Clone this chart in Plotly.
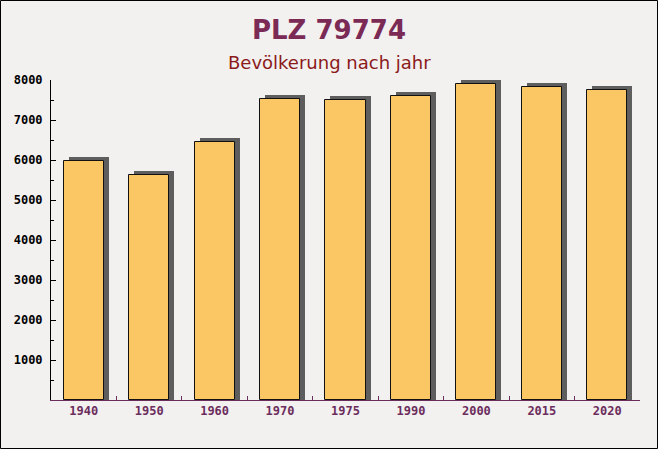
import plotly.graph_objects as go

years = ["1940", "1950", "1960", "1970", "1975", "1990", "2000", "2015", "2020"]
population = [5980, 5620, 6450, 7530, 7490, 7610, 7900, 7830, 7750]

title_text = "PLZ 79774"
subtitle_text = "Bevölkerung nach jahr"

W, H = 658, 449
ML, MR, MT, MB = 51, 18, 80, 49
pw = W - ML - MR
ph = H - MT - MB

bar_w = 0.612
shadow_dx = 5 / (pw / len(years))
shadow_dy = 4 * 8000 / ph

fig = go.Figure()
fig.add_trace(go.Bar(
    x=years, y=[v + shadow_dy for v in population],
    width=bar_w, offset=-bar_w / 2 + shadow_dx,
    marker=dict(color="#5e5e5e", line=dict(width=0)),
    hoverinfo="skip", showlegend=False,
))
fig.add_trace(go.Bar(
    x=years, y=population,
    width=bar_w, offset=-bar_w / 2,
    marker=dict(color="#fbc765", line=dict(color="#111111", width=1)),
    showlegend=False,
))

cx = (W / 2 - ML) / pw

fig.update_layout(
    width=W, height=H,
    margin=dict(l=ML, r=MR, t=MT, b=MB),
    paper_bgcolor="#f3f0f0",
    plot_bgcolor="rgba(0,0,0,0)",
    barmode="overlay",
    bargap=0,
    xaxis=dict(
        type="category",
        showgrid=False, zeroline=False,
        showline=True, linecolor="#6b2d5c", linewidth=1,
        ticks="inside", tickson="boundaries", ticklen=4, tickcolor="#6b2d5c",
        tickfont=dict(family="DejaVu Sans Mono", size=12, color="#6b2d5c", weight="bold"),
        range=[-0.5, len(years) - 0.5],
    ),
    yaxis=dict(
        range=[0, 8000], tickvals=[1000, 2000, 3000, 4000, 5000, 6000, 7000, 8000],
        showgrid=False, zeroline=False,
        showline=True, linecolor="#000000", linewidth=1,
        ticks="inside", ticklen=5, tickcolor="#000000",
        minor=dict(dtick=500, ticks="inside", ticklen=3, tickcolor="#000000"),
        tickfont=dict(family="DejaVu Sans Mono", size=12, color="#000000", weight="bold"),
        ticklabelstandoff=5,
    ),
    annotations=[
        dict(text=title_text, x=cx, y=(H - MB - 30) / ph, xref="paper", yref="paper",
             showarrow=False, yanchor="middle",
             font=dict(family="DejaVu Sans", size=26, color="#7b2a55", weight="bold")),
        dict(text=subtitle_text, x=cx, y=(H - MB - 62) / ph, xref="paper", yref="paper",
             showarrow=False, yanchor="middle",
             font=dict(family="DejaVu Sans", size=18, color="#8b1a1a")),
    ],
)

fig.add_shape(type="rect", xref="paper", yref="paper",
              x0=-(ML - 0.5) / pw, x1=(pw + MR - 0.5) / pw,
              y0=-(MB - 0.5) / ph, y1=(ph + MT - 0.5) / ph,
              line=dict(color="#000000", width=1), fillcolor="rgba(0,0,0,0)", layer="above")

fig.write_html("out.html")
